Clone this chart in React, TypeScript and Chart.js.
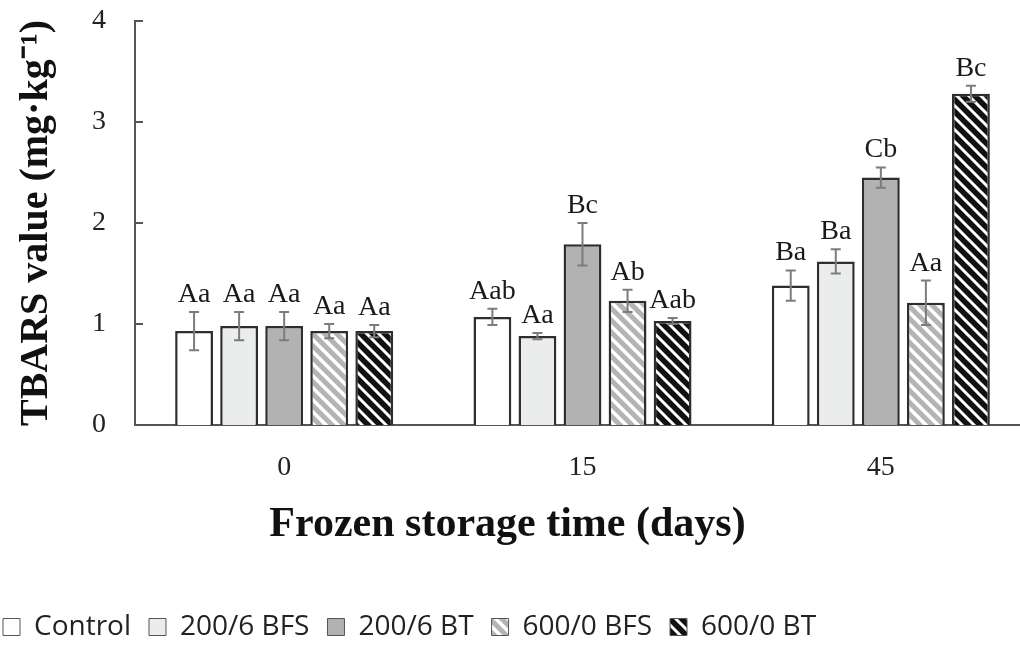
import React, { useEffect, useRef } from "react";
import { Chart, registerables } from "chart.js";

Chart.register(...registerables);

// Frozen storage days on the x axis
const days = ["0", "15", "45"];

// Treatment names
const seriesNames = ["Control", "200/6 BFS", "200/6 BT", "600/0 BFS", "600/0 BT"];

// Mean TBARS values (mg·kg⁻¹) per treatment
const controlMeans = [0.93, 1.07, 1.38];
const bfs200Means = [0.98, 0.88, 1.62];
const bt200Means = [0.98, 1.79, 2.45];
const bfs600Means = [0.93, 1.23, 1.21];
const bt600Means = [0.93, 1.03, 3.28];

// Standard deviations
const controlSd = [0.19, 0.08, 0.15];
const bfs200Sd = [0.14, 0.03, 0.12];
const bt200Sd = [0.14, 0.21, 0.1];
const bfs600Sd = [0.07, 0.11, 0.22];
const bt600Sd = [0.06, 0.03, 0.08];

// Significance letters
const controlLetters = ["Aa", "Aab", "Ba"];
const bfs200Letters = ["Aa", "Aa", "Ba"];
const bt200Letters = ["Aa", "Bc", "Cb"];
const bfs600Letters = ["Aa", "Ab", "Aa"];
const bt600Letters = ["Aa", "Aab", "Bc"];

// Y axis ticks
const yTicks = [0, 1, 2, 3, 4];

const SERIF = '"Liberation Serif", "Times New Roman", serif';
const SANS = '"Open Sans", "Noto Sans", sans-serif';

function hatch(bg: string, fg: string, lw: number): CanvasPattern | string {
  const s = 12;
  const c = document.createElement("canvas");
  c.width = s;
  c.height = s;
  const g = c.getContext("2d");
  if (!g) return bg;
  g.fillStyle = bg;
  g.fillRect(0, 0, s, s);
  g.strokeStyle = fg;
  g.lineWidth = lw;
  g.beginPath();
  for (let x0 = -s; x0 <= s; x0 += s) {
    g.moveTo(x0 - 2, -2);
    g.lineTo(x0 + s + 2, s + 2);
  }
  g.stroke();
  const p = g.createPattern(c, "repeat");
  return p || bg;
}

// Error bars with significance letters above each bar
const errorBarPlugin = {
  id: "errorBars",
  afterDatasetsDraw(chart: any) {
    const { ctx } = chart;
    const y = chart.scales.y;
    chart.data.datasets.forEach((ds: any, i: number) => {
      const meta = chart.getDatasetMeta(i);
      meta.data.forEach((bar: any, j: number) => {
        const v = ds.data[j];
        const e = ds.errors[j];
        const top = y.getPixelForValue(v + e);
        const bot = y.getPixelForValue(v - e);
        ctx.save();
        ctx.strokeStyle = "#7c7c7c";
        ctx.lineWidth = 2;
        ctx.beginPath();
        ctx.moveTo(bar.x, top);
        ctx.lineTo(bar.x, bot);
        ctx.moveTo(bar.x - 5, top);
        ctx.lineTo(bar.x + 5, top);
        ctx.moveTo(bar.x - 5, bot);
        ctx.lineTo(bar.x + 5, bot);
        ctx.stroke();
        ctx.fillStyle = "#1a1a1a";
        ctx.font = `28px ${SERIF}`;
        ctx.textAlign = "center";
        ctx.textBaseline = "alphabetic";
        ctx.fillText(ds.letters[j], bar.x, top - 10);
        ctx.restore();
      });
    });
  },
};

// Inward tick marks on the value axis
const innerTicksPlugin = {
  id: "innerTicks",
  afterDraw(chart: any) {
    const { ctx, chartArea } = chart;
    const y = chart.scales.y;
    ctx.save();
    ctx.strokeStyle = "#555";
    ctx.lineWidth = 2;
    ctx.beginPath();
    yTicks.forEach((t) => {
      const py = y.getPixelForValue(t);
      ctx.moveTo(chartArea.left, py);
      ctx.lineTo(chartArea.left + 8, py);
    });
    ctx.stroke();
    ctx.restore();
  },
};

export default function App() {
  const ref = useRef<HTMLCanvasElement>(null);

  useEffect(() => {
    if (!ref.current) return;
    const border = "#2e2e2e";
    const chart = new Chart(ref.current, {
      type: "bar",
      data: {
        labels: days,
        datasets: [
          { label: seriesNames[0], data: controlMeans, errors: controlSd, letters: controlLetters, backgroundColor: "#ffffff" },
          { label: seriesNames[1], data: bfs200Means, errors: bfs200Sd, letters: bfs200Letters, backgroundColor: "#ebecec" },
          { label: seriesNames[2], data: bt200Means, errors: bt200Sd, letters: bt200Letters, backgroundColor: "#b2b2b2" },
          { label: seriesNames[3], data: bfs600Means, errors: bfs600Sd, letters: bfs600Letters, backgroundColor: hatch("#b4b4b4", "#ffffff", 3.5) },
          { label: seriesNames[4], data: bt600Means, errors: bt600Sd, letters: bt600Letters, backgroundColor: hatch("#111111", "#ffffff", 3) },
        ].map((d: any) => ({
          ...d,
          borderColor: border,
          borderWidth: 2.5,
          barPercentage: 0.84,
          categoryPercentage: 0.755,
        })),
      } as any,
      options: {
        responsive: false,
        animation: false,
        events: [],
        layout: { padding: { top: 21, left: 0, right: 0, bottom: 0 } },
        plugins: {
          tooltip: { enabled: false },
          legend: {
            position: "bottom",
            align: "start",
            labels: {
              font: { family: SANS, size: 28 },
              color: "#222",
              boxWidth: 17,
              boxHeight: 17,
              padding: 18,
              generateLabels: (c: any) =>
                Chart.defaults.plugins.legend.labels.generateLabels(c).map((l: any) => ({
                  ...l,
                  lineWidth: 1,
                  strokeStyle: "#555",
                })),
            },
          },
          title: {
            display: true,
            text: "Frozen storage time (days)",
            position: "bottom",
            weight: 500,
            color: "#111",
            font: { family: SERIF, size: 42, weight: "bold" },
            padding: { top: 0, bottom: 45 },
          } as any,
        },
        scales: {
          x: {
            grid: { display: false, drawTicks: false },
            border: { display: true, color: "#555", width: 2 },
            ticks: { font: { family: SERIF, size: 28 }, color: "#222", padding: 26 },
            afterFit: (s: any) => {
              s.height = 74.6;
            },
          },
          y: {
            min: 0,
            max: 4,
            grid: { display: false, drawTicks: false },
            border: { display: true, color: "#555", width: 2 },
            ticks: {
              font: { family: SERIF, size: 28 },
              color: "#222",
              padding: 29,
              stepSize: 1,
            },
            title: {
              display: true,
              text: "TBARS value (mg·kg⁻¹)",
              color: "#111",
              font: { family: SERIF, size: 40, weight: "bold" },
              padding: { top: 28, bottom: 0 },
            },
            afterFit: (s: any) => {
              s.width = 150;
              s.paddingTop = 0;
              s.paddingBottom = 0;
            },
          },
        },
      } as any,
      plugins: [errorBarPlugin, innerTicksPlugin],
    });
    return () => chart.destroy();
  }, []);

  return (
    <div style={{ position: "fixed", left: 0, top: 0, width: 1020, height: 646, overflow: "hidden", background: "#fff" }}>
      <canvas ref={ref} width={1045} height={651} style={{ position: "absolute", left: -15, top: 0 }} />
    </div>
  );
}
